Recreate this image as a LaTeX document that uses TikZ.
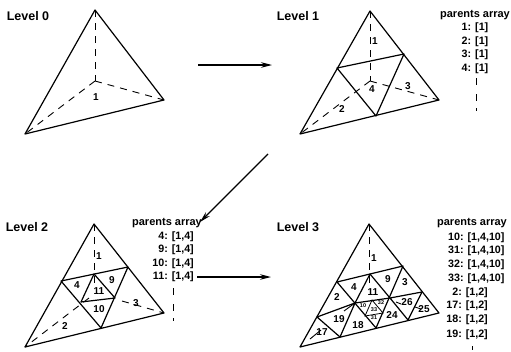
\documentclass[tikz,border=0pt]{standalone}
\usepackage{fontspec}
\setmainfont{Liberation Sans}
\usetikzlibrary{arrows.meta}
\begin{document}
\begin{tikzpicture}[
  x=1pt,y=-1pt,
  every node/.style={font=\bfseries,inner sep=0pt},
  title/.style={font=\bfseries\fontsize{12.5}{14}\selectfont},
  head/.style={font=\bfseries\fontsize{11}{13}\selectfont},
  item/.style={font=\bfseries\fontsize{10.7}{13}\selectfont},
  num/.style={font=\bfseries\fontsize{10}{12}\selectfont},
  tiny/.style={font=\bfseries\fontsize{5.5}{6}\selectfont},
  edge/.style={line width=1.2pt,line join=round},
  hidden/.style={line width=0.9pt,dash pattern=on 7pt off 6pt},
  dots/.style={line width=1pt,dash pattern=on 7pt off 9pt on 7pt off 7pt on 3pt off 9pt},
  flow/.style={line width=1.2pt,-{Stealth[length=11pt,width=5.5pt]}}
]
  \useasboundingbox (0,0) rectangle (511,351);

  % level 0
  \coordinate (a0) at (95,10);
  \coordinate (b0) at (25,134);
  \coordinate (c0) at (164,100);
  \coordinate (d0) at (95,81);
  \draw[edge] (a0)--(b0)--(c0)--cycle;
  \draw[hidden] (a0)--(d0);
  \draw[hidden] (d0)--(b0);
  \draw[hidden] (d0)--(c0);
  \node[title] (t0) at (28,16) {Level 0};
  \node[num] (n01) at (96,97) {1};

  % level 1
  \coordinate (a1) at (370,11);
  \coordinate (b1) at (300,134);
  \coordinate (c1) at (439,100);
  \coordinate (d1) at (370,81);
  \coordinate (ab1) at (337,68);
  \coordinate (ac1) at (404,54);
  \coordinate (bc1) at (376,116);
  \draw[edge] (a1)--(b1)--(c1)--cycle;
  \draw[edge] (ab1)--(ac1)--(bc1)--cycle;
  \draw[hidden] (a1)--(d1);
  \draw[hidden] (d1)--(b1);
  \draw[hidden] (d1)--(c1);
  \node[title] (t1) at (298,16) {Level 1};
  \node[num] (n11) at (375,41) {1};
  \node[num] (n12) at (342,109) {2};
  \node[num] (n13) at (408,86) {3};
  \node[num] (n14) at (372,89) {4};
  \node[head] (p1) at (475,15) {parents array};
  \node[item] (p11) at (475,28) {1: [1]};
  \node[item] (p12) at (475,42) {2: [1]};
  \node[item] (p13) at (475,55) {3: [1]};
  \node[item] (p14) at (475,69) {4: [1]};
  \coordinate (v1) at (476,78);
  \coordinate (w1) at (476,113);
  \draw[dots] (v1)--(w1);

  % level 2
  \coordinate (a2) at (94,224);
  \coordinate (b2) at (25,347);
  \coordinate (c2) at (164,313);
  \coordinate (ab2) at (61,281);
  \coordinate (ac2) at (128,267);
  \coordinate (bc2) at (101,328);
  \coordinate (e2) at (94,274);
  \coordinate (f2) at (81,302);
  \coordinate (g2) at (115,298);
  \coordinate (h2) at (94,284);
  \coordinate (i2) at (122,301);
  \coordinate (j2) at (89,298);
  \draw[edge] (a2)--(b2)--(c2)--cycle;
  \draw[edge] (ab2)--(ac2)--(bc2)--cycle;
  \draw[edge] (e2)--(f2)--(g2)--cycle;
  \draw[hidden] (a2)--(h2);
  \draw[hidden] (j2)--(b2);
  \draw[hidden] (i2)--(c2);
  \node[title] (t2) at (27,227) {Level 2};
  \node[num] (n21) at (99,256) {1};
  \node[num] (n22) at (65,326) {2};
  \node[num] (n23) at (136,303) {3};
  \node[num] (n24) at (77,285) {4};
  \node[num] (n29) at (112,280) {9};
  \node[num] (n210) at (99,309) {10};
  \node[num] (n211) at (99,291) {11};
  \node[head] (p2) at (167,223) {parents array};
  \node[item,anchor=east] (p24) at (194,237) {4: [1,4]};
  \node[item,anchor=east] (p29) at (194,250) {9: [1,4]};
  \node[item,anchor=east] (p210) at (194,264) {10: [1,4]};
  \node[item,anchor=east] (p211) at (194,277) {11: [1,4]};
  \coordinate (v2) at (173,288);
  \coordinate (w2) at (173,323);
  \draw[dots] (v2)--(w2);

  % level 3
  \coordinate (a3) at (369,224);
  \coordinate (b3) at (300,347);
  \coordinate (c3) at (439,313);
  \coordinate (ab3) at (337,282);
  \coordinate (ac3) at (403,266);
  \coordinate (bc3) at (376,328);
  \coordinate (e3) at (370,274);
  \coordinate (f3) at (355,303);
  \coordinate (g3) at (390,298);
  \coordinate (l3) at (317,317);
  \coordinate (m3) at (340,337);
  \coordinate (r3) at (422,292);
  \coordinate (s3) at (408,320);
  \coordinate (x3) at (372,300);
  \coordinate (y3) at (365,316);
  \coordinate (z3) at (383,313);
  \coordinate (h3) at (369,288);
  \coordinate (q3) at (344,311);
  \coordinate (o3) at (310,339);
  \coordinate (k3) at (321,330);
  \coordinate (u3) at (396,302);
  \coordinate (u4) at (401,304);
  \coordinate (u5) at (415,307);
  \coordinate (u6) at (421,309);
  \draw[edge] (a3)--(b3)--(c3)--cycle;
  \draw[edge] (ab3)--(ac3)--(bc3)--cycle;
  \draw[edge] (e3)--(f3)--(g3)--cycle;
  \draw[edge] (l3)--(f3)--(m3)--cycle;
  \draw[edge] (g3)--(r3)--(s3)--cycle;
  \draw[line width=0.8pt] (x3)--(y3)--(z3)--cycle;
  \draw[hidden] (a3)--(h3);
  \draw[line width=0.9pt] (f3)--(q3);
  \draw[line width=0.9pt] (o3)--(k3);
  \draw[line width=0.9pt] (u3)--(u4);
  \draw[line width=0.9pt] (u5)--(u6);
  \node[title] (t3) at (298,227) {Level 3};
  \node[num] (n31) at (374,258) {1};
  \node[num] (n32) at (337,297) {2};
  \node[num] (n33) at (405,282) {3};
  \node[num] (n34) at (354,287) {4};
  \node[num] (n39) at (388,279) {9};
  \node[num] (n311) at (373,292) {11};
  \node[num] (n317) at (322,332) {17};
  \node[num] (n318) at (358,325) {18};
  \node[num] (n319) at (339,319) {19};
  \node[num] (n324) at (392,315) {24};
  \node[num] (n325) at (424,309) {25};
  \node[num] (n326) at (407,302) {26};
  \node[tiny] (n310) at (363,306) {10};
  \node[tiny] (n332) at (381,303) {32};
  \node[tiny] (n333) at (374,310) {33};
  \node[tiny] (n331) at (374,318) {31};
  \node[head] (p3) at (472,223) {parents array};
  \foreach \n/\y/\s in {10/238/{10: [1,4,10]},31/251/{31: [1,4,10]},32/265/{32: [1,4,10]},33/279/{33: [1,4,10]}}
    \node[item,anchor=west] (p3\n) at (448,\y) {\s};
  \foreach \n/\y/\s in {2/293/{2: [1,2]},17/306/{17: [1,2]},18/320/{18: [1,2]},19/335/{19: [1,2]}}
    \node[item,anchor=east] (p3\n) at (488,\y) {\s};
  \coordinate (v3) at (472,346);
  \coordinate (w3) at (472,350);
  \draw[line width=1pt] (v3)--(w3);

  % arrows between levels
  \coordinate (s01) at (198,65);
  \coordinate (e01) at (272,65);
  \coordinate (s12) at (268,154);
  \coordinate (e12) at (200,222);
  \coordinate (e23) at (271,277);
  \draw[flow] (s01)--(e01);
  \draw[flow] (s12)--(e12);
  \draw[flow] (p211.east) ++(3,0) coordinate (s23)--(e23);
\end{tikzpicture}
\end{document}
